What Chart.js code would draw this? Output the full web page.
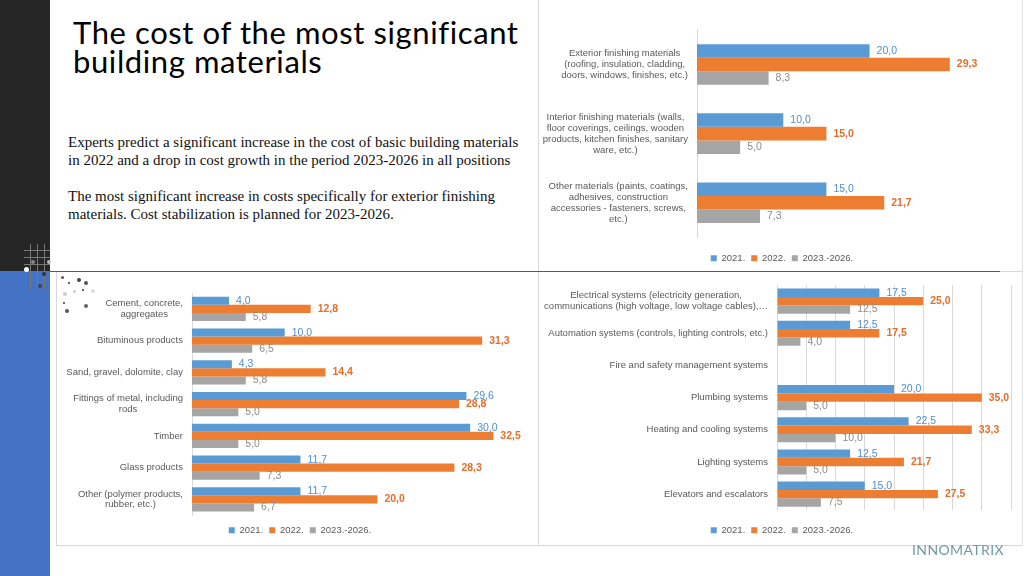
<!DOCTYPE html>
<html><head><meta charset="utf-8">
<script src="https://cdn.jsdelivr.net/npm/chart.js@4.4.1/dist/chart.umd.min.js"></script>
<style>
html,body{margin:0;padding:0;width:1024px;height:576px;overflow:hidden;background:#fff;}
#stage{position:relative;width:1024px;height:576px;}
.abs{position:absolute;}
.ln{position:absolute;z-index:5;}
.dot{position:absolute;border-radius:50%;z-index:6;}
.box{position:absolute;z-index:2;}
p{margin:0;}
</style></head><body>
<div id="stage">
  <div class="abs" style="left:0;top:0;width:50px;height:271px;background:#262626"></div>
  <div class="abs" style="left:0;top:271px;width:50px;height:305px;background:#4472C4"></div>
  <!-- decorative grid -->
  <div class="ln" style="left:24px;top:250px;width:26px;height:1px;background:#777"></div>
  <div class="ln" style="left:24px;top:257px;width:26px;height:1px;background:#777"></div>
  <div class="ln" style="left:24px;top:264px;width:26px;height:1px;background:#777"></div>
  <div class="ln" style="left:30px;top:244px;width:1px;height:46px;background:#777"></div>
  <div class="ln" style="left:37px;top:244px;width:1px;height:46px;background:#777"></div>
  <div class="ln" style="left:44px;top:244px;width:1px;height:46px;background:#777"></div>
  <div class="dot" style="left:24px;top:267px;width:5px;height:5px;background:#fff"></div>
  <div class="dot" style="left:31px;top:260px;width:4px;height:4px;background:#888"></div>
  <div class="dot" style="left:47px;top:260px;width:4px;height:4px;background:#bbb"></div>
  <div class="dot" style="left:42px;top:272px;width:4px;height:4px;background:#333"></div>
  <div class="dot" style="left:38px;top:284px;width:4px;height:4px;background:#444"></div>
  <div class="dot" style="left:61px;top:276px;width:3px;height:3px;background:#555"></div>
  <div class="dot" style="left:68px;top:282px;width:2px;height:2px;background:#333"></div>
  <div class="dot" style="left:77px;top:278px;width:4px;height:4px;background:#444"></div>
  <div class="dot" style="left:84px;top:281px;width:4px;height:4px;background:#555"></div>
  <div class="dot" style="left:63px;top:292px;width:4px;height:4px;background:#ccc"></div>
  <div class="dot" style="left:73px;top:290px;width:3px;height:3px;background:#ccc"></div>
  <div class="dot" style="left:82px;top:289px;width:2px;height:2px;background:#333"></div>
  <div class="dot" style="left:91px;top:289px;width:4px;height:4px;background:#ddd"></div>
  <div class="dot" style="left:63px;top:302px;width:2px;height:2px;background:#333"></div>
  <div class="dot" style="left:65px;top:309px;width:4px;height:4px;background:#555"></div>
  <div class="dot" style="left:84px;top:304px;width:4px;height:4px;background:#666"></div>

  <!-- frame lines -->
  <div class="ln" style="left:538px;top:0;width:1px;height:545px;background:#d9d9d9"></div>
  <div class="ln" style="left:1022px;top:0;width:1px;height:545px;background:#e3e3e3"></div>
  <div class="ln" style="left:50px;top:271px;width:950px;height:1px;background:#5a5a5a"></div>
  <div class="ln" style="left:1000px;top:271px;width:23px;height:1px;background:#d9d9d9"></div>
  <div class="ln" style="left:56px;top:272px;width:1px;height:273px;background:#d9d9d9"></div>
  <div class="ln" style="left:56px;top:545px;width:967px;height:1px;background:#d9d9d9"></div>

  <div id="title" class="abs" style="left:73px;top:18px;font-family:Lato,'Open Sans',sans-serif;font-size:31px;letter-spacing:0.6px;line-height:28.5px;color:#000;white-space:nowrap">The cost of the most significant<br>building materials</div>
  <div id="body" class="abs" style="left:68px;top:133px;font-family:'Liberation Serif',serif;font-size:15px;line-height:18px;color:#111;white-space:nowrap">
    <p>Experts predict a significant increase in the cost of basic building materials<br>in 2022 and a drop in cost growth in the period 2023-2026 in all positions</p>
    <p style="margin-top:18px">The most significant increase in costs specifically for exterior finishing<br>materials. Cost stabilization is planned for 2023-2026.</p>
  </div>

  <div class="box" style="left:538px;top:0;width:485px;height:273px"><canvas id="cA" width="485" height="273"></canvas></div>
  <div class="box" style="left:56px;top:272px;width:482px;height:273px"><canvas id="cB" width="482" height="273"></canvas></div>
  <div class="box" style="left:538px;top:272px;width:485px;height:273px"><canvas id="cC" width="485" height="273"></canvas></div>

  <div class="abs" style="left:912px;top:541px;font-family:Lato,sans-serif;font-weight:400;font-size:14px;letter-spacing:0.4px;color:#6f9aa8;z-index:7">INNOMATRIX</div>
</div>
<script>
// ---------- data ----------
const seriesNames = ['2021.', '2022.', '2023.-2026.'];

const finishCats = [
  ['Exterior finishing materials', '(roofing, insulation, cladding,', 'doors, windows, finishes, etc.)'],
  ['Interior finishing materials (walls,', 'floor coverings, ceilings, wooden', 'products, kitchen finishes, sanitary', 'ware, etc.)'],
  ['Other materials (paints, coatings,', 'adhesives, construction', 'accessories - fasteners, screws,', 'etc.)']
];
const finish2021 = [20.0, 10.0, 15.0];
const finish2022 = [29.3, 15.0, 21.7];
const finish2326 = [8.3, 5.0, 7.3];

const basicCats = [
  ['Cement, concrete,', 'aggregates'],
  ['Bituminous products'],
  ['Sand, gravel, dolomite, clay'],
  ['Fittings of metal, including', 'rods'],
  ['Timber'],
  ['Glass products'],
  ['Other (polymer products,', 'rubber, etc.)']
];
const basic2021 = [4.0, 10.0, 4.3, 29.6, 30.0, 11.7, 11.7];
const basic2022 = [12.8, 31.3, 14.4, 28.8, 32.5, 28.3, 20.0];
const basic2326 = [5.8, 6.5, 5.8, 5.0, 5.0, 7.3, 6.7];

const sysCats = [
  ['Electrical systems (electricity generation,', 'communications (high voltage, low voltage cables),…'],
  ['Automation systems (controls, lighting controls, etc.)'],
  ['Fire and safety management systems'],
  ['Plumbing systems'],
  ['Heating and cooling systems'],
  ['Lighting systems'],
  ['Elevators and escalators']
];
const sys2021 = [17.5, 12.5, null, 20.0, 22.5, 12.5, 15.0];
const sys2022 = [25.0, 17.5, null, 35.0, 33.3, 21.7, 27.5];
const sys2326 = [12.5, 4.0, null, 5.0, 10.0, 5.0, 7.5];

// ---------- styling ----------
const BAR_COLORS = ['#5B9BD5', '#ED7D31', '#A5A5A5'];
const VAL_COLORS = ['#4f8fd0', '#E46E2C', '#8c8c8c'];
const FONT = '"Liberation Sans", Arial, sans-serif';

const catLabelPlugin = {
  id: 'catLabels',
  afterDraw(chart, args, opts) {
    const ctx = chart.ctx, ys = chart.scales.y, left = chart.chartArea.left;
    ctx.save();
    ctx.font = opts.size + 'px ' + FONT;
    ctx.fillStyle = '#595959';
    ctx.textAlign = 'center';
    ctx.textBaseline = 'middle';
    chart.data.labels.forEach((lines, i) => {
      const yc = ys.getPixelForValue(i);
      const w = Math.max(...lines.map(l => ctx.measureText(l).width));
      const cx = left - opts.pad - w / 2;
      lines.forEach((l, j) => ctx.fillText(l, cx, yc + (j - (lines.length - 1) / 2) * opts.lineH));
    });
    ctx.restore();
  }
};

const valLabelPlugin = {
  id: 'valLabels',
  afterDatasetsDraw(chart) {
    const ctx = chart.ctx;
    ctx.save();
    ctx.textAlign = 'left';
    ctx.textBaseline = 'middle';
    chart.data.datasets.forEach((ds, di) => {
      const meta = chart.getDatasetMeta(di);
      ctx.font = (di === 1 ? 'bold ' : '') + '10.5px ' + FONT;
      ctx.fillStyle = VAL_COLORS[di];
      meta.data.forEach((el, i) => {
        const v = ds.data[i];
        if (v === null || v === undefined) return;
        ctx.fillText(v.toFixed(1).replace('.', ','), el.x + 7, el.y);
      });
    });
    ctx.restore();
  }
};

function build(id, cats, d1, d2, d3, o) {
  return new Chart(document.getElementById(id), {
    type: 'bar',
    data: {
      labels: cats,
      datasets: [
        { label: seriesNames[0], data: d1, backgroundColor: BAR_COLORS[0] },
        { label: seriesNames[1], data: d2, backgroundColor: BAR_COLORS[1] },
        { label: seriesNames[2], data: d3, backgroundColor: BAR_COLORS[2] }
      ]
    },
    options: {
      indexAxis: 'y',
      responsive: false,
      animation: false,
      layout: { padding: { top: o.padTop, right: o.padRight, left: o.padLeft, bottom: 0 } },
      datasets: { bar: { categoryPercentage: o.cp, barPercentage: 1 } },
      scales: {
        x: {
          min: 0, max: o.max,
          ticks: { display: false, stepSize: 5 },
          grid: { display: o.grid, color: '#d9d9d9', drawTicks: false },
          border: { display: false },
          afterFit: s => { s.height = o.gap; }
        },
        y: {
          ticks: { display: false },
          grid: { display: false, drawTicks: false },
          border: { display: true, color: '#d9d9d9' },
          afterFit: s => { s.width = o.axisW; }
        }
      },
      plugins: {
        legend: {
          position: 'bottom',
          labels: { boxWidth: 6, boxHeight: 6, padding: 6, color: '#595959', font: { family: FONT, size: 9.5 } }
        },
        tooltip: { enabled: false },
        catLabels: { size: 9.5, pad: 9, lineH: o.lineH }
      }
    },
    plugins: [catLabelPlugin, valLabelPlugin]
  });
}

build('cA', finishCats, finish2021, finish2022, finish2326,
  { max: 35, grid: false, padTop: 30, padLeft: 27, padRight: 24, axisW: 132, gap: 10.25, cp: 0.587, lineH: 11.1 });
build('cB', basicCats, basic2021, basic2022, basic2326,
  { max: 35, grid: false, padTop: 21, padLeft: 27.5, padRight: 21.5, axisW: 108.5, gap: 4.25, cp: 0.757, lineH: 10.8 });
build('cC', sysCats, sys2021, sys2022, sys2326,
  { max: 40, grid: true, padTop: 13, padLeft: 15, padRight: 12, axisW: 224, gap: 9.25, cp: 0.78, lineH: 11.3 });
</script>
</body></html>
